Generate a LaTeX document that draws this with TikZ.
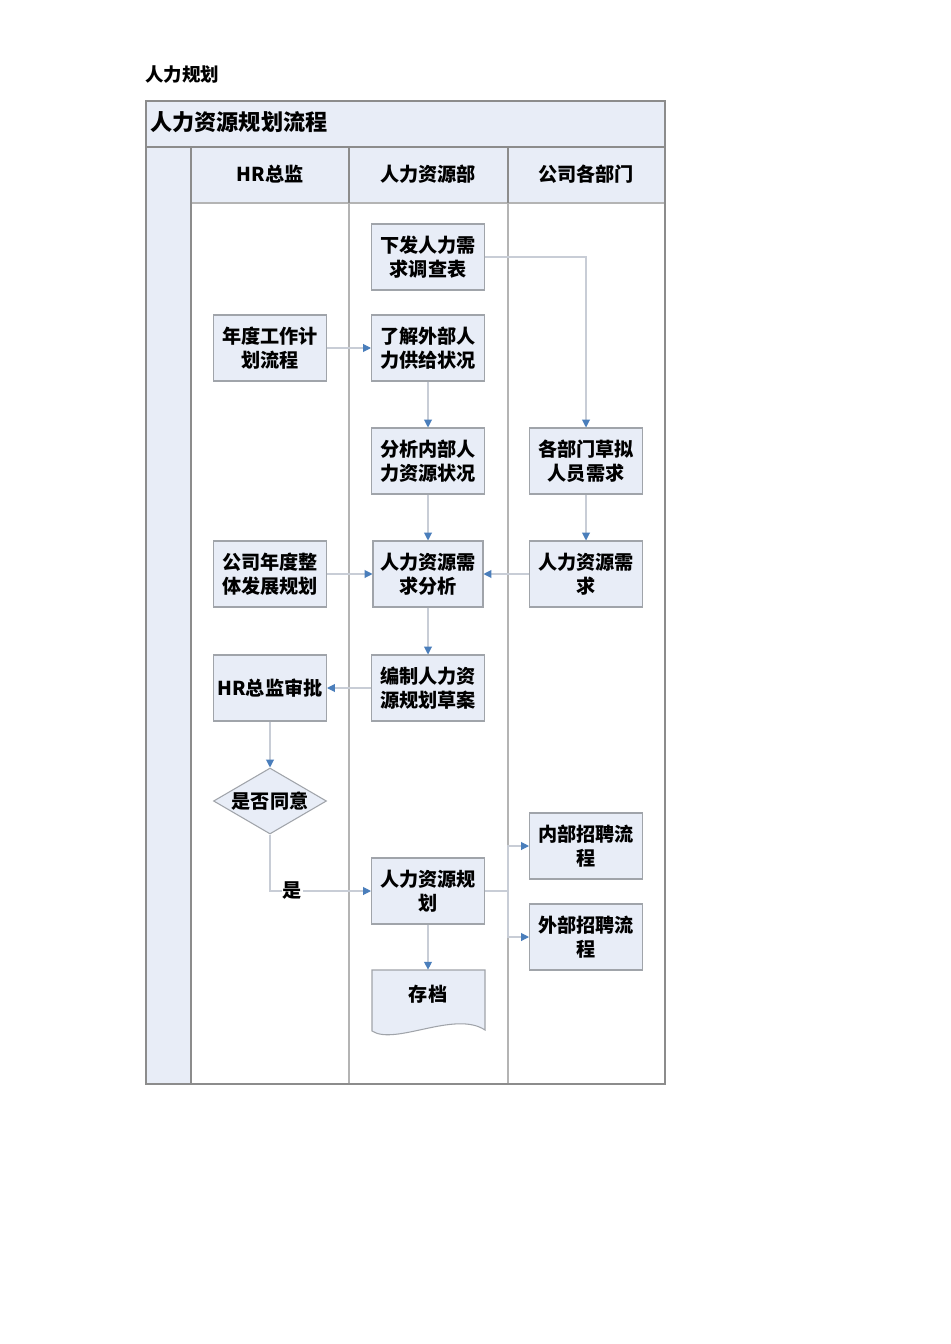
\documentclass[tikz,border=0pt]{standalone}
\usepackage{fontspec}
\setmainfont{Noto Sans CJK SC}
\usetikzlibrary{arrows.meta,shapes.geometric}
\definecolor{boxfill}{HTML}{E8EDF7}
\definecolor{boxline}{HTML}{A0A4AA}
\definecolor{frameline}{HTML}{8C8C8C}
\definecolor{laneline}{HTML}{B4B4B4}
\definecolor{flowline}{HTML}{C8CDD6}
\definecolor{tipblue}{HTML}{4A7EBB}
\tikzset{
  box/.style={draw=boxline, fill=boxfill, line width=0.6pt, align=center,
    minimum width=2.26cm, minimum height=1.32cm, inner sep=1pt,
    font=\bfseries\fontsize{10.9}{13.7}\selectfont},
  choice/.style={box, shape=diamond, aspect=1.7, inner sep=0pt,
    minimum width=2.26cm, minimum height=1.32cm},
  flow/.style={draw=flowline, line width=0.6pt,
    -{Triangle[length=4.5pt,width=4.5pt,color=tipblue]}}
}
\begin{document}
\begin{tikzpicture}[x=0.02cm,y=-0.02cm]
  \useasboundingbox[fill=white] (0,0) rectangle (950,1344);
  % page title
  \node[anchor=west, inner sep=0, font=\bfseries\fontsize{10.5}{12}\selectfont] (title) at (145,75) {人力规划};
  % pool and lanes
  \fill[boxfill] (146,101) rectangle (665,147);
  \fill[boxfill] (146,147) rectangle (191,1084);
  \fill[boxfill] (191,147) rectangle (665,203);
  \draw[laneline, line width=0.6pt] (349,203) -- (349,1084) (508,203) -- (508,1084);
  \draw[laneline, line width=0.6pt] (191,203) -- (665,203);
  \draw[frameline, line width=0.7pt] (349,147) -- (349,203) (508,147) -- (508,203)
    (191,147) -- (191,1084) (146,147) -- (665,147);
  \draw[frameline, line width=0.7pt] (146,101) rectangle (665,1084);
  \node[anchor=west, inner sep=0, font=\bfseries\fontsize{12.6}{14}\selectfont] (pool) at (150,122) {人力资源规划流程};
  \path[font=\bfseries\fontsize{10.9}{13}\selectfont]
    (270,174) node (laneA){HR总监}
    (428,174) node (laneB){人力资源部}
    (586,174) node (laneC){公司各部门};
  % steps
  \path
    (428,257) node[box] (1){下发人力需\\求调查表}
    (270,348) node[box] (2){年度工作计\\划流程}
    (428,348) node[box] (3){了解外部人\\力供给状况}
    (428,461) node[box] (4){分析内部人\\力资源状况}
    (586,461) node[box] (5){各部门草拟\\人员需求}
    (270,574) node[box] (6){公司年度整\\体发展规划}
    (428,574) node[box, minimum width=2.2cm] (7){人力资源需\\求分析}
    (586,574) node[box] (8){人力资源需\\求}
    (270,688) node[box] (9){HR总监审批}
    (428,688) node[box] (10){编制人力资\\源规划草案}
    (270,801) node[choice] (11){是否同意}
    (428,891) node[box] (12){人力资源规\\划}
    (586,846) node[box] (13){内部招聘流\\程}
    (586,937) node[box] (14){外部招聘流\\程};
  % archive document
  \draw[boxline, fill=boxfill, line width=0.6pt] (372,970) -- (485,970) -- (485,1030)
    .. controls (455,1010) and (395,1046) .. (372,1031) -- cycle;
  \node[minimum width=2.26cm, minimum height=0.96cm, inner sep=0,
    font=\bfseries\fontsize{10.9}{13.7}\selectfont] (15) at (428,994) {存档};
  \coordinate (split) at (508,891);
  \begin{scope}[flow]
    \draw (1) -| (5);
    \draw (2) to (3);
    \draw (3) to (4);
    \draw (4) to (7);
    \draw (5) to (8);
    \draw (6) to (7);
    \draw (8) to (7);
    \draw (7) to (10);
    \draw (10) to (9);
    \draw (9) to (11);
    \draw (11) |- node[pos=0.61, fill=white, inner sep=0.5pt,
      font=\bfseries\fontsize{10.9}{13}\selectfont] {是} (12);
    \draw (12) to (15);
    \draw (split) |- (13);
    \draw (split) |- (14);
  \end{scope}
  \draw[flowline, line width=0.6pt] (12) -- (split);
\end{tikzpicture}
\end{document}
